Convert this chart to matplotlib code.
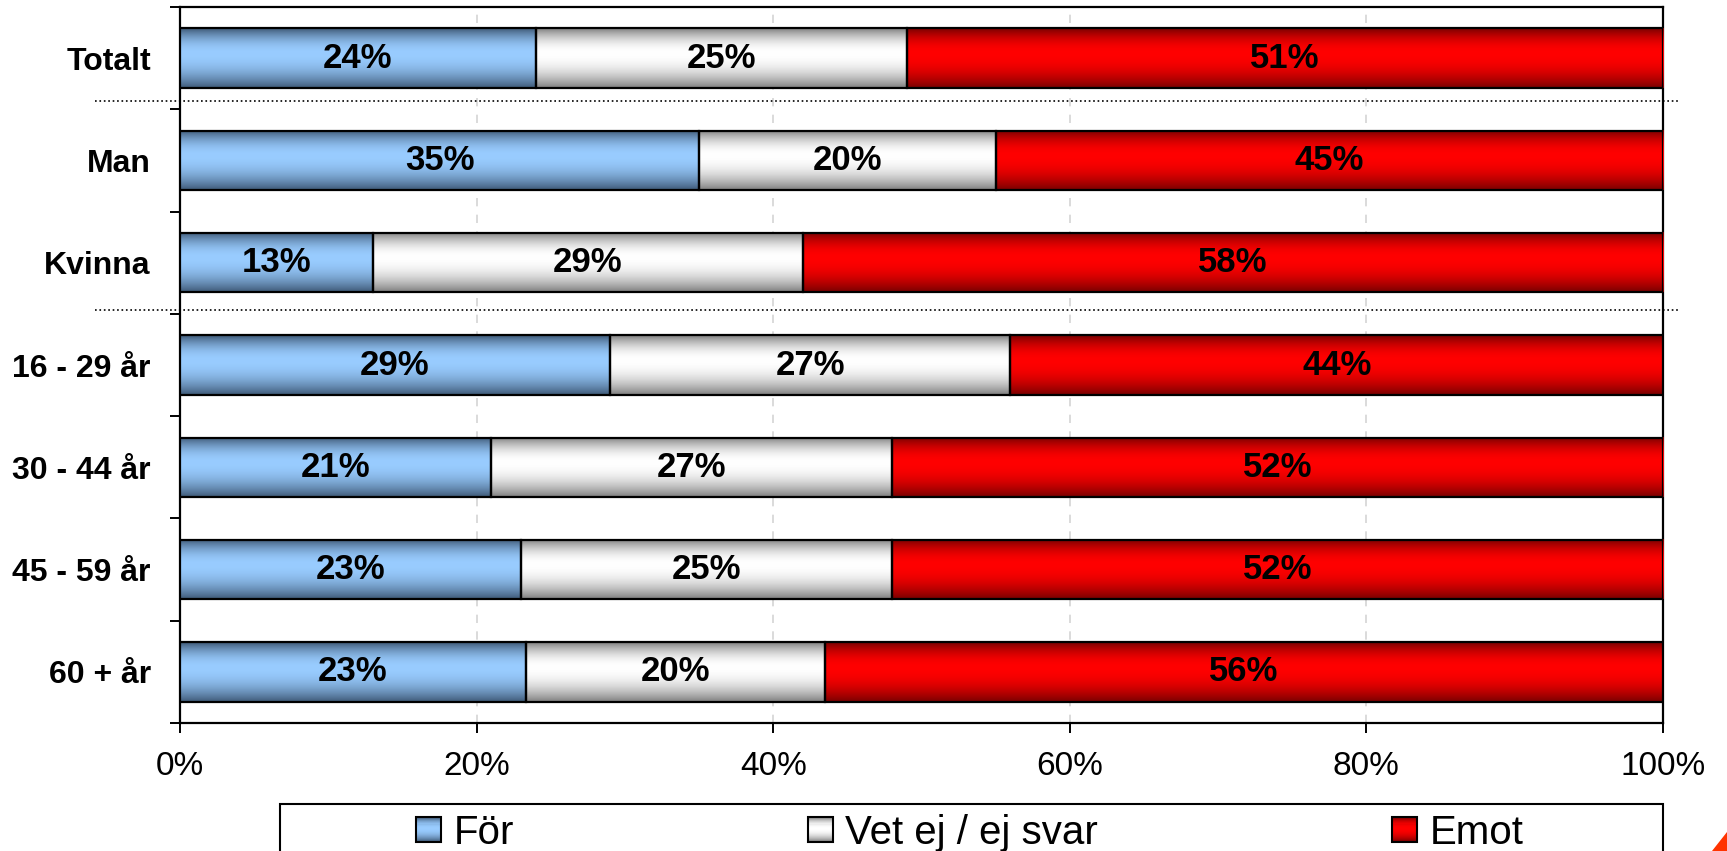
import numpy as np
import matplotlib.pyplot as plt
from matplotlib.patches import Rectangle, Polygon
from matplotlib.legend_handler import HandlerBase
from matplotlib.transforms import blended_transform_factory
from matplotlib.ticker import FixedLocator, PercentFormatter

plt.rcParams['font.family'] = ['Liberation Sans', 'DejaVu Sans']

# data
categories = ['Totalt', 'Man', 'Kvinna', '16 - 29 år', '30 - 44 år', '45 - 59 år', '60 + år']
series_names = ['För', 'Vet ej / ej svar', 'Emot']
for_values = [24, 35, 13, 29, 21, 23, 23.3]
vet_ej_values = [25, 20, 29, 27, 27, 25, 20.2]
emot_values = [51, 45, 58, 44, 52, 52, 56.5]
x_ticks = [0, 20, 40, 60, 80, 100]

# gradient colours (edge colour, centre colour)
gradients = [('#3f5a78', '#99ccff'), ('#808080', '#ffffff'), ('#7a0000', '#ff0000')]


def gradient_rgb(dark, light, n=64):
    t = np.linspace(0, 1, n)
    peak = 0.42
    v = np.where(t < peak, 1 - ((peak - t) / peak) ** 2, 1 - ((t - peak) / (1 - peak)) ** 2)
    d = np.array(plt.matplotlib.colors.to_rgb(dark))
    l = np.array(plt.matplotlib.colors.to_rgb(light))
    return d + (l - d) * v[:, None]


class GradientHandler(HandlerBase):
    def __init__(self, dark, light):
        super().__init__()
        self.dark, self.light = dark, light

    def create_artists(self, legend, orig_handle, xdescent, ydescent, width, height, fontsize, trans):
        cols = gradient_rgb(self.dark, self.light, 24)
        side = height
        x0 = -xdescent
        y0 = -ydescent
        arts = []
        step = side / len(cols)
        for i, c in enumerate(cols):
            arts.append(Rectangle((x0, y0 + side - (i + 1) * step), side, step * 1.05,
                                  facecolor=c, edgecolor='none', transform=trans))
        arts.append(Rectangle((x0, y0), side, side, facecolor='none', edgecolor='black',
                              lw=1.5, transform=trans))
        return arts


W, H = 1727, 851
fig = plt.figure(figsize=(W / 100, H / 100), dpi=100)
ax = fig.add_axes([180 / W, 1 - 723 / H, (1663 - 180) / W, (723 - 7) / H])

y = np.arange(len(categories))
bar_h = 0.58
lefts = np.zeros(len(categories))
for vals, (dark, light) in zip([for_values, vet_ej_values, emot_values], gradients):
    bars = ax.barh(y, vals, left=lefts, height=bar_h, facecolor='none',
                   edgecolor='black', linewidth=1.6, zorder=4)
    grad = gradient_rgb(dark, light)[:, None, :]
    for rect, v in zip(bars, vals):
        x0, yb = rect.get_x(), rect.get_y()
        ax.imshow(grad, extent=[x0, x0 + rect.get_width(), yb + rect.get_height(), yb],
                  aspect='auto', interpolation='bilinear', zorder=3)
        ax.text(x0 + rect.get_width() / 2, yb + rect.get_height() / 2, f'{v:.0f}%',
                ha='center', va='center', fontsize=25, fontweight='bold', zorder=5)
    lefts = lefts + np.array(vals)

ax.set_xlim(0, 100)
ax.set_ylim(len(categories) - 0.5, -0.5)

# axes styling
for s in ax.spines.values():
    s.set_linewidth(1.6)
ax.xaxis.set_major_locator(FixedLocator(x_ticks))
ax.xaxis.set_major_formatter(PercentFormatter(decimals=0))
ax.tick_params(axis='x', direction='out', length=7.5, width=1.4, labelsize=24, pad=13)
ax.set_yticks(np.arange(-0.5, len(categories)), labels=[''] * (len(categories) + 1))
ax.set_yticks(y, labels=categories, minor=True)
ax.tick_params(axis='y', which='major', direction='out', length=7.5, width=1.4)
ax.tick_params(axis='y', which='minor', length=0, pad=21, labelsize=23)
for lab in ax.get_yticklabels(minor=True):
    lab.set_fontweight('bold')
ax.xaxis.grid(True, linestyle=(0, (5, 5)), color='#d4d4d4', linewidth=1.2)
ax.set_axisbelow(True)

# dotted group separators
tr = blended_transform_factory(ax.transAxes, ax.transData)
for sep in [0.42, 2.46]:
    ax.plot([-0.057, 1.011], [sep, sep], transform=tr, color='black', linestyle=':',
            linewidth=1.2, clip_on=False, zorder=6)

# legend with box
fig.patches.append(Rectangle((280 / W, -0.05), (1663 - 280) / W, (851 - 804) / H + 0.05,
                             transform=fig.transFigure, facecolor='white',
                             edgecolor='black', linewidth=1.5, zorder=0))
handles = [Rectangle((0, 0), 1, 1) for _ in series_names]
fig.legend(handles, series_names, ncol=3, loc='center left',
           bbox_to_anchor=(416 / W, 1 - 833 / H), frameon=False, fontsize=29,
           handlelength=0.58, handleheight=0.58, handletextpad=0.35, columnspacing=7.3,
           borderpad=0, borderaxespad=0,
           handler_map={h: GradientHandler(*g) for h, g in zip(handles, gradients)})

# red corner mark
fig.patches.append(Polygon([[1712 / W, 0], [W / W, (851 - 832) / H], [W / W, 0]],
                           closed=True, transform=fig.transFigure, facecolor='#ff3300',
                           edgecolor='none'))

fig.savefig('out.png', dpi=100)
